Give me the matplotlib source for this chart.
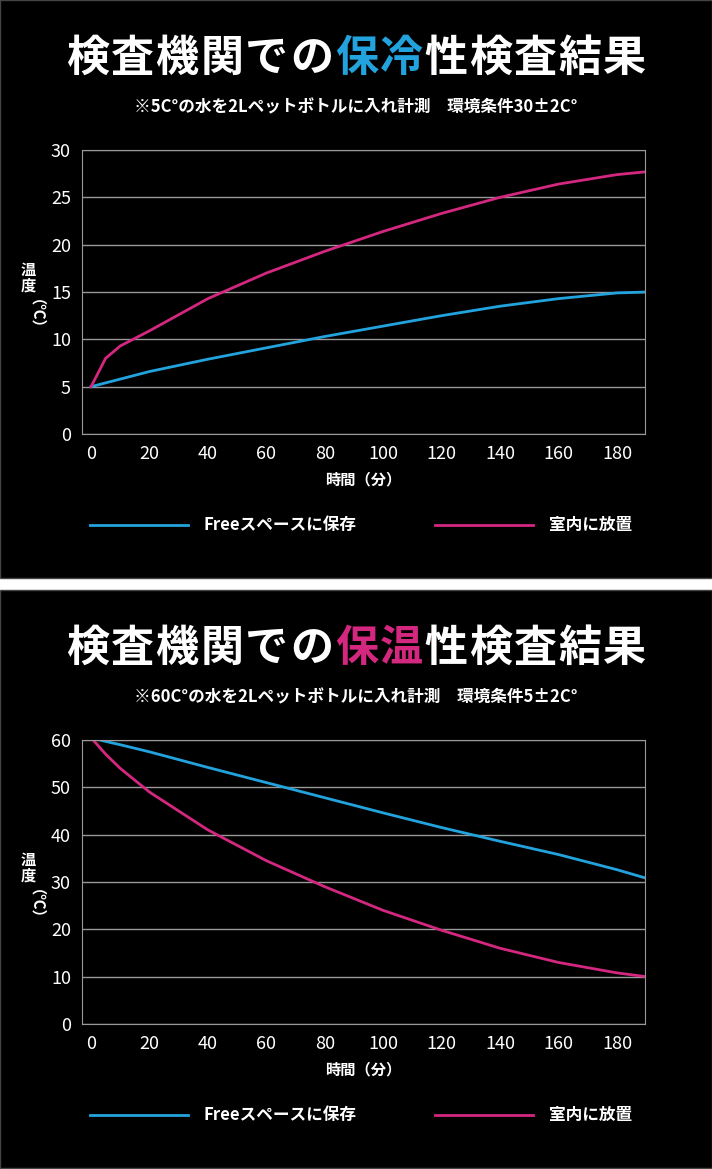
import matplotlib.pyplot as plt
from matplotlib.lines import Line2D
from matplotlib.patches import Rectangle

plt.rcParams['font.family'] = ['Noto Sans CJK JP', 'DejaVu Sans']

BLUE = '#23a3dd'
PINK = '#d4277f'

minutes = [0, 5, 10, 20, 40, 60, 80, 100, 120, 140, 160, 180, 190]
cold_free = [5, 5.4, 5.8, 6.6, 7.9, 9.1, 10.3, 11.4, 12.5, 13.5, 14.3, 14.9, 15.0]
cold_room = [5, 8.0, 9.3, 10.9, 14.3, 17.0, 19.3, 21.4, 23.3, 25.0, 26.4, 27.4, 27.7]
hot_free = [60.5, 59.7, 59.0, 57.5, 54.2, 51.0, 47.8, 44.6, 41.5, 38.6, 35.8, 32.6, 30.8]
hot_room = [60.5, 57.0, 54.0, 49.0, 41.0, 34.5, 29.0, 24.0, 19.8, 16.0, 13.0, 10.8, 10.0]

xticks = list(range(0, 181, 20))
W, H = 712, 1169
fig = plt.figure(figsize=(W / 100, H / 100), dpi=100, facecolor='white')


def fx(px):
    return px / W


def fy(py):
    return 1 - py / H


def panel(top, word, color, subtitle, ymax, ystep, free, room):
    fig.patches.append(Rectangle((0, fy(top + 578)), 1, 578 / H, transform=fig.transFigure,
                                 facecolor='black', edgecolor='#444444', lw=1, zorder=-5))
    title = '検査機関での' + word + '性検査結果'
    step = 44.8
    x0 = 65 + step / 2
    for i, ch in enumerate(title):
        c = color if 6 <= i < 8 else 'white'
        fig.text(fx(x0 + i * step), fy(top + 58), ch, color=c, fontsize=31, fontweight='bold',
                 ha='center', va='center')
    fig.text(0.5, fy(top + 107), subtitle, color='white', fontsize=12, fontweight='bold',
             ha='center', va='center')

    ax = fig.add_axes([fx(82), fy(top + 434), fx(645 - 82), (434 - 150) / H], zorder=2)
    ax.set_facecolor('black')
    ax.plot(minutes, free, color=BLUE, lw=2)
    ax.plot(minutes, room, color=PINK, lw=2)
    ax.set_xlim(-3.1, 189.6)
    ax.set_ylim(0, ymax)
    ax.set_xticks(xticks)
    ax.set_yticks(range(0, ymax + 1, ystep))
    ax.grid(axis='y', color='#999999', lw=1)
    for s in ax.spines.values():
        s.set_color('#999999')
    ax.tick_params(colors='white', labelsize=13, length=0, pad=8)
    ax.set_xlabel('時間（分）', color='white', fontsize=11, fontweight='bold', labelpad=6)

    fig.text(fx(28), fy(top + 278), '温\n度', color='white', fontsize=11, fontweight='bold',
             ha='center', va='center', linespacing=1.0)
    fig.text(fx(28), fy(top + 322), '（℃）', color='white', fontsize=11, fontweight='bold',
             ha='center', va='center', rotation=-90, rotation_mode='anchor')

    ly = fy(top + 525)
    fig.lines.append(Line2D([fx(90), fx(188)], [ly, ly], color=BLUE, lw=2, transform=fig.transFigure))
    fig.lines.append(Line2D([fx(435), fx(533)], [ly, ly], color=PINK, lw=2, transform=fig.transFigure))
    fig.text(fx(204), ly, 'Freeスペースに保存', color='white', fontsize=12, fontweight='bold', va='center')
    fig.text(fx(549), ly, '室内に放置', color='white', fontsize=12, fontweight='bold', va='center')


panel(0, '保冷', BLUE, '※5C°の水を2Lペットボトルに入れ計測　環境条件30±2C°', 30, 5, cold_free, cold_room)
panel(590, '保温', PINK, '※60C°の水を2Lペットボトルに入れ計測　環境条件5±2C°', 60, 10, hot_free, hot_room)

fig.savefig('out.png', dpi=100, facecolor='white')
